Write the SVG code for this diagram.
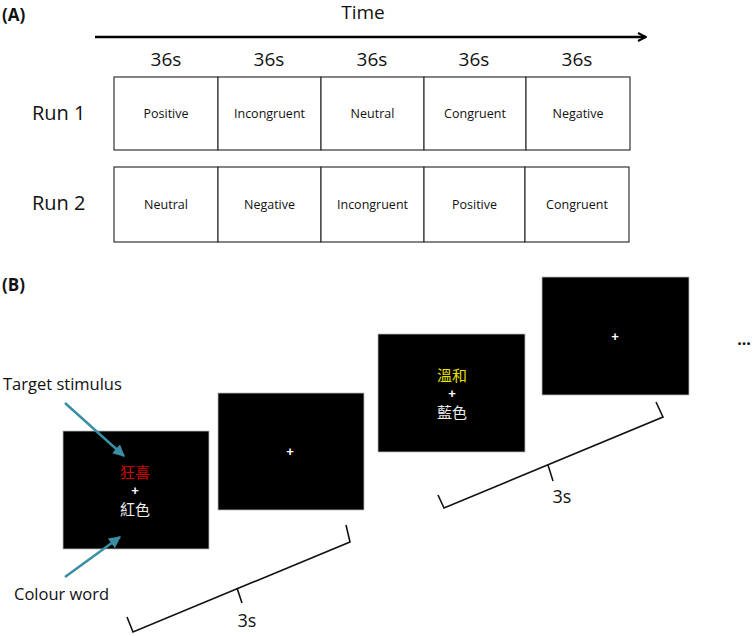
<svg xmlns="http://www.w3.org/2000/svg" width="753" height="636" viewBox="0 0 753 636">
<defs>
<style>
.t{font-family:"Open Sans","Liberation Sans",sans-serif;fill:#111}
.cell{fill:#fff;stroke:#333;stroke-width:1.2}
.ct{font-family:"Open Sans","Liberation Sans",sans-serif;font-size:12.5px;fill:#111;text-anchor:middle}
.dur{font-family:"Open Sans","Liberation Sans",sans-serif;font-size:19px;fill:#111;text-anchor:middle}
.scr{fill:#000;stroke:#bbb;stroke-width:0.8}
.cj{font-family:"Noto Sans CJK TC","Noto Sans CJK SC",sans-serif;font-size:15px;text-anchor:middle}
.plus{font-family:"Liberation Sans",sans-serif;font-size:13px;font-weight:bold;fill:#fff;text-anchor:middle}
.br{fill:none;stroke:#111;stroke-width:1.6}
.ar{stroke:#3a8fa5;stroke-width:2.5;fill:none}
</style>
<marker id="tail" viewBox="0 0 10 10" refX="9" refY="5" markerWidth="10" markerHeight="10" markerUnits="userSpaceOnUse" orient="auto">
<path d="M1,1 L9,5 L1,9" fill="none" stroke="#000" stroke-width="2"/>
</marker>
<marker id="teal" viewBox="0 0 10 10" refX="9" refY="5" markerWidth="12" markerHeight="12" markerUnits="userSpaceOnUse" orient="auto">
<path d="M0,0 L10,5 L0,10 Z" fill="#3a8fa5"/>
</marker>
</defs>
<rect width="753" height="636" fill="#fff"/>

<text class="t" x="2" y="21" font-size="17" font-weight="bold">(A)</text>
<text class="t" x="363" y="19" font-size="19" text-anchor="middle">Time</text>
<text class="dur" x="166" y="66">36s</text>
<text class="dur" x="269" y="66">36s</text>
<text class="dur" x="372" y="66">36s</text>
<text class="dur" x="474" y="66">36s</text>
<text class="dur" x="577" y="66">36s</text>
<text class="t" x="32" y="120" font-size="20">Run 1</text>
<text class="t" x="32" y="210" font-size="20">Run 2</text>

<g id="run1">
<rect class="cell" x="114" y="77" width="104" height="73"/>
<rect class="cell" x="218" y="77" width="103" height="73"/>
<rect class="cell" x="321" y="77" width="103" height="73"/>
<rect class="cell" x="424" y="77" width="102" height="73"/>
<rect class="cell" x="526" y="77" width="104" height="73"/>
<text class="ct" x="166" y="118">Positive</text>
<text class="ct" x="269.5" y="118">Incongruent</text>
<text class="ct" x="372.5" y="118">Neutral</text>
<text class="ct" x="475" y="118">Congruent</text>
<text class="ct" x="578" y="118">Negative</text>
</g>
<g id="run2">
<rect class="cell" x="114" y="167" width="104" height="75"/>
<rect class="cell" x="218" y="167" width="103" height="75"/>
<rect class="cell" x="321" y="167" width="103" height="75"/>
<rect class="cell" x="424" y="167" width="101" height="75"/>
<rect class="cell" x="525" y="167" width="104" height="75"/>
<text class="ct" x="166" y="209">Neutral</text>
<text class="ct" x="269.5" y="209">Negative</text>
<text class="ct" x="372.5" y="209">Incongruent</text>
<text class="ct" x="474.5" y="209">Positive</text>
<text class="ct" x="577" y="209">Congruent</text>
</g>

<text class="t" x="2" y="291" font-size="17" font-weight="bold">(B)</text>
<text class="t" x="3" y="390" font-size="16.5">Target stimulus</text>
<text class="t" x="14" y="600" font-size="16.5">Colour word</text>

<g id="screen1">
<rect class="scr" x="63" y="431" width="146" height="118"/>
<text class="cj" x="135" y="478" fill="#d40000">狂喜</text>
<text class="plus" x="135" y="495">+</text>
<text class="cj" x="135" y="515" fill="#eee">紅色</text>
</g>
<g id="screen2">
<rect class="scr" x="218" y="393" width="146" height="117"/>
<text class="plus" x="290" y="456">+</text>
</g>
<g id="screen3">
<rect class="scr" x="378" y="334" width="147" height="118"/>
<text class="cj" x="452" y="381" fill="#e8e000">溫和</text>
<text class="plus" x="452" y="398">+</text>
<text class="cj" x="452" y="418" fill="#eee">藍色</text>
</g>
<g id="screen4">
<rect class="scr" x="542" y="277" width="147" height="118"/>
<text class="plus" x="615" y="341">+</text>
</g>
<text class="t" x="744" y="345" font-size="16" font-weight="bold" text-anchor="middle">...</text>

<g id="connectors">
<line x1="95" y1="37" x2="646" y2="37" stroke="#000" stroke-width="2.4" marker-end="url(#tail)"/>
<line class="ar" x1="65" y1="403" x2="124" y2="456" marker-end="url(#teal)"/>
<line class="ar" x1="65" y1="577" x2="120" y2="537" marker-end="url(#teal)"/>
</g>

<g id="bracket1">
<path class="br" d="M127,617 L133,632 L350,542 L346,525"/>
<path class="br" d="M237,588 L242,603"/>
<text class="t" x="247" y="627" font-size="18" text-anchor="middle">3s</text>
</g>
<g id="bracket2">
<path class="br" d="M438,495 L444,508 L663,417 L656,402"/>
<path class="br" d="M548,465 L553,481"/>
<text class="t" x="562" y="503" font-size="18" text-anchor="middle">3s</text>
</g>
</svg>
